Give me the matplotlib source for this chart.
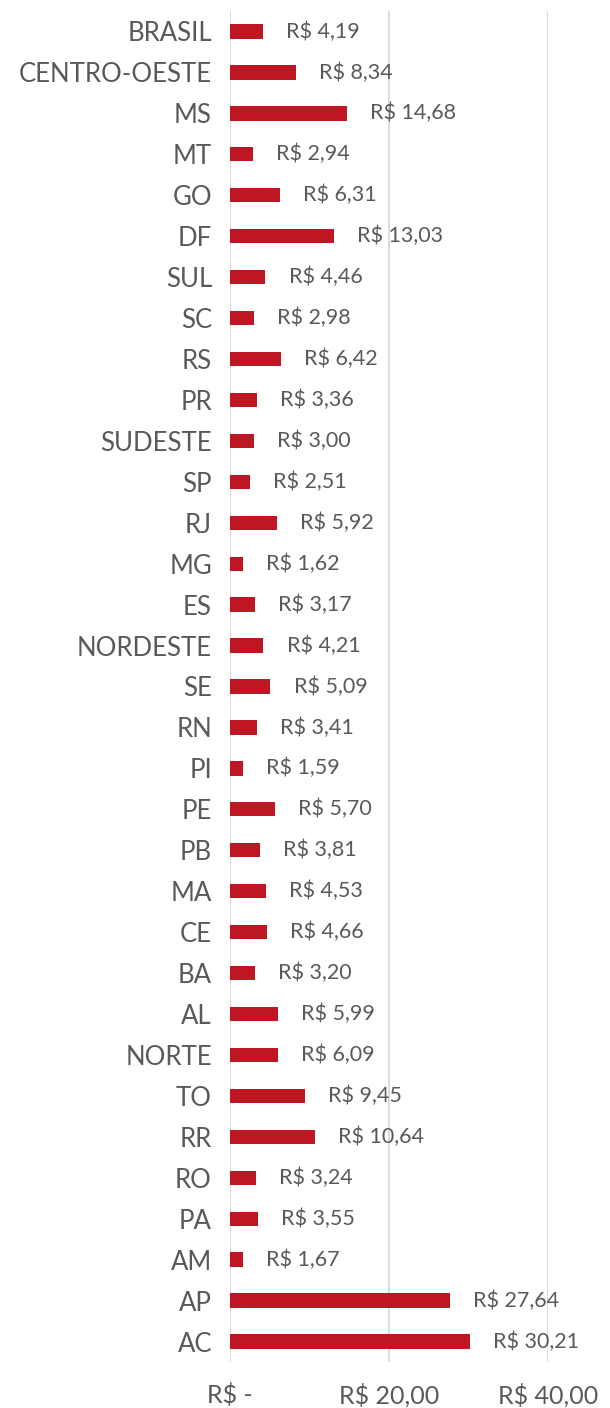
import matplotlib
matplotlib.use("Agg")
import matplotlib.pyplot as plt

categories = ["BRASIL", "CENTRO-OESTE", "MS", "MT", "GO", "DF", "SUL", "SC", "RS", "PR",
              "SUDESTE", "SP", "RJ", "MG", "ES", "NORDESTE", "SE", "RN", "PI", "PE", "PB",
              "MA", "CE", "BA", "AL", "NORTE", "TO", "RR", "RO", "PA", "AM", "AP", "AC"]
values = [4.19, 8.34, 14.68, 2.94, 6.31, 13.03, 4.46, 2.98, 6.42, 3.36,
          3.00, 2.51, 5.92, 1.62, 3.17, 4.21, 5.09, 3.41, 1.59, 5.70, 3.81,
          4.53, 4.66, 3.20, 5.99, 6.09, 9.45, 10.64, 3.24, 3.55, 1.67, 27.64, 30.21]
xticks = [0, 20, 40]
xticklabels = ["R$ -", "R$ 20,00", "R$ 40,00"]

plt.rcParams['font.family'] = ['Lato', 'DejaVu Sans']
gray = "#595959"
red = "#BE1622"

fig = plt.figure(figsize=(6.10, 14.08), dpi=100)
ax = fig.add_axes([230/610, (1408-1362)/1408, 318/610, 1351/1408])

y = list(range(len(categories)))
ax.barh(y, values, height=0.35, color=red, zorder=3)
for yi, v in zip(y, values):
    lbl = "R$ " + f"{v:.2f}".replace(".", ",")
    ax.text(v + 2.9, yi, lbl, va="center", ha="left", fontsize=15.5,
            color=gray)

ax.set_ylim(len(categories) - 0.5, -0.5)
ax.set_xlim(0, 40)
ax.set_yticks(y)
ax.set_yticklabels(categories, fontsize=18.5, color=gray)
ax.set_xticks(xticks)
ax.set_xticklabels(xticklabels, fontsize=18, color=gray)
ax.tick_params(axis="both", length=0)
ax.tick_params(axis="y", pad=13)
ax.tick_params(axis="x", pad=15)
ax.grid(axis="x", color="#D9D9D9", linewidth=1.3, zorder=0)
for s in ax.spines.values():
    s.set_visible(False)
ax.set_facecolor("white")

fig.savefig("out.png", dpi=100, facecolor="white")
